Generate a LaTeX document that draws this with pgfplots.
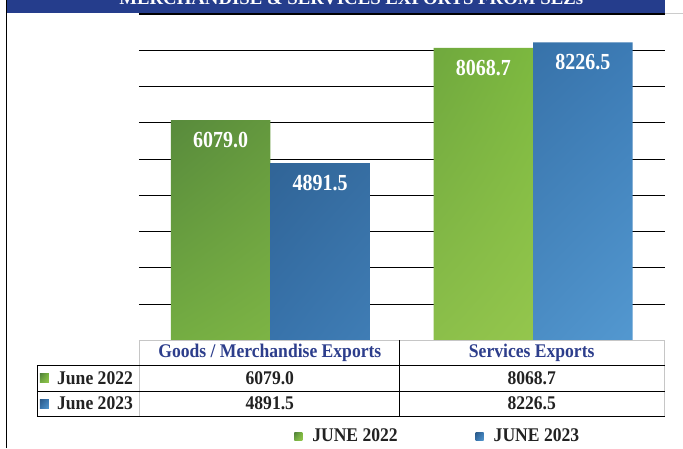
\documentclass[border=0pt]{standalone}
\usepackage{pgfplots}
\pgfplotsset{compat=1.18}
\usepackage{fontspec}
\setmainfont{Liberation Serif}
\usetikzlibrary{shadings}
\definecolor{navy}{HTML}{253D8C}
\definecolor{hdr}{HTML}{2D3E8C}
\definecolor{txt}{HTML}{222222}
\definecolor{gUL}{HTML}{4F7F3A}
\definecolor{gUR}{HTML}{7CB83F}
\definecolor{gLL}{HTML}{74AD42}
\definecolor{gLR}{HTML}{94C64D}
\definecolor{bUL}{HTML}{2B5A89}
\definecolor{bUR}{HTML}{3C7BB5}
\definecolor{bLL}{HTML}{3873AB}
\definecolor{bLR}{HTML}{5398D0}
\newcommand{\tfont}{\bfseries\fontsize{17.6}{20}\selectfont}
\newcommand{\tall}[1]{\scalebox{1}[1.1]{#1}}
\begin{document}
\begin{tikzpicture}[x=1pt,y=1pt]
\path[fill=white] (0,0) rectangle (683,448);
\begin{axis}[
  at={(139pt,108pt)}, anchor=south west,
  scale only axis, width=526pt, height=326.25pt,
  xmin=-0.5, xmax=1.5, ymin=0, ymax=9000,
  ytick={1000,2000,...,9000}, ymajorgrids,
  grid style={black, line width=0.9pt},
  xtick=\empty, yticklabel=\empty,
  major tick length=0pt,
  axis line style={draw=none},
  ybar=0pt, bar width=99.5pt,
  point meta=explicit symbolic,
  nodes near coords={\scalebox{1}[1.15]{\pgfplotspointmeta}},
  every node near coord/.append style={anchor=center, yshift=-20pt, text=white, font=\bfseries\fontsize{20}{22}\selectfont},
  legend columns=2,
  legend style={draw=none, fill=none, at={(0.5675,-0.294)}, anchor=center,
    font=\tfont, text=txt, nodes={inner sep=1pt},
    /tikz/every odd column/.append style={column sep=9pt},
    /tikz/every even column/.append style={column sep=77pt}},
]
\addplot[draw=none, shade, shading=bilinear interpolation, upper left=gUL, upper right=gUR, lower left=gLL, lower right=gLR,
  legend image code/.code={\path[shade, shading=bilinear interpolation, upper left=gUL, upper right=gUR, lower left=gLL, lower right=gLR] (0pt,-4pt) rectangle (8pt,4pt);}]
  coordinates {(0,6079.0) [6079.0] (1,8068.7) [8068.7]};
\addplot[draw=none, shade, shading=bilinear interpolation, upper left=bUL, upper right=bUR, lower left=bLL, lower right=bLR,
  legend image code/.code={\path[shade, shading=bilinear interpolation, upper left=bUL, upper right=bUR, lower left=bLL, lower right=bLR] (0pt,-4pt) rectangle (8pt,4pt);}]
  coordinates {(0,4891.5) [4891.5] (1,8226.5) [8226.5]};
\legend{\tall{JUNE 2022}, \tall{JUNE 2023}}
\end{axis}
% title bar
\fill[navy] (7,435.3) rectangle (665,448);
\draw[black, line width=0.9pt] (139,434.9) -- (665,434.9);
\draw[gray!40, line width=0.8pt] (665,434.9) -- (683,434.9);
\pgfinterruptboundingbox
\begin{scope}
\clip (0,0) rectangle (683,448);
\node[anchor=base, text=white, font=\bfseries\fontsize{18.8}{20}\selectfont, inner sep=0pt] at (351.5,444) {MERCHANDISE \& SERVICES EXPORTS FROM SEZs};
\end{scope}
\endpgfinterruptboundingbox
% frame left
\draw[black, line width=1pt] (7,0) -- (7,448);
% table
\draw[gray!45, line width=0.8pt] (139,108) -- (665,108);
\draw[gray!45, line width=0.8pt] (139,108) -- (139,32);
\draw[gray!45, line width=0.8pt] (665,108) -- (665,32);
\draw[black, line width=0.9pt] (400,108) -- (400,32);
\draw[black, line width=0.9pt] (37,83) -- (665,83);
\draw[black, line width=0.9pt] (37,57) -- (665,57);
\draw[black, line width=0.9pt] (37,32) -- (665,32);
\draw[black, line width=0.9pt] (37,83) -- (37,32);
\node[text=hdr, font=\tfont, inner sep=0pt] at (270,95) {\tall{Goods / Merchandise Exports}};
\node[text=hdr, font=\tfont, inner sep=0pt] at (532,95) {\tall{Services Exports}};
\shade[shading=bilinear interpolation, upper left=gUL, upper right=gUR, lower left=gLL, lower right=gLR] (40,66) rectangle (49,75);
\shade[shading=bilinear interpolation, upper left=bUL, upper right=bUR, lower left=bLL, lower right=bLR] (40,40) rectangle (49,49);
\node[anchor=west, text=txt, font=\tfont, inner sep=0pt] at (57,70) {\tall{June 2022}};
\node[anchor=west, text=txt, font=\tfont, inner sep=0pt] at (57,45) {\tall{June 2023}};
\node[text=txt, font=\tfont, inner sep=0pt] at (270,70) {\tall{6079.0}};
\node[text=txt, font=\tfont, inner sep=0pt] at (532,70) {\tall{8068.7}};
\node[text=txt, font=\tfont, inner sep=0pt] at (270,45) {\tall{4891.5}};
\node[text=txt, font=\tfont, inner sep=0pt] at (532,45) {\tall{8226.5}};
\path (0,0) rectangle (683,448);
\end{tikzpicture}
\end{document}
